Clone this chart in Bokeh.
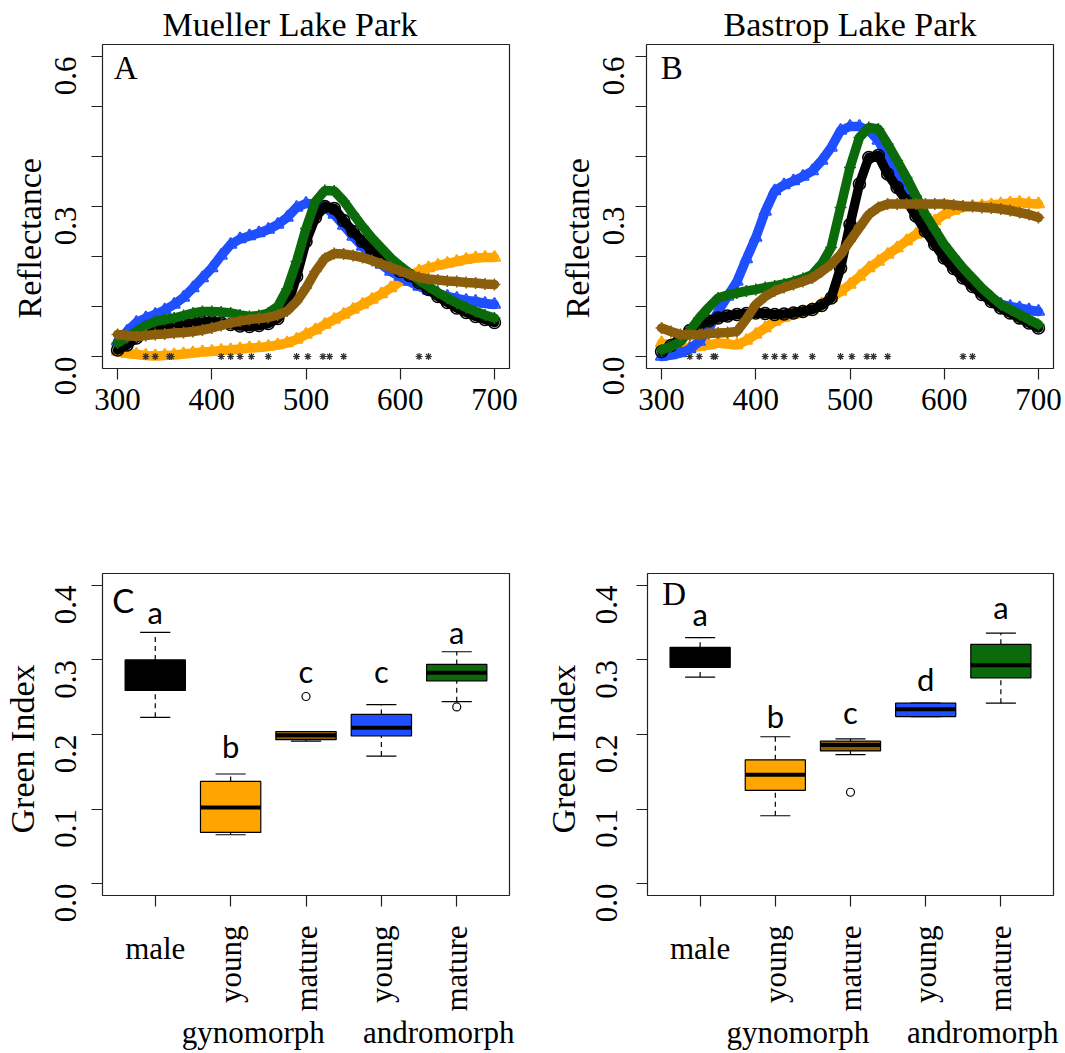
import math
from bokeh.plotting import figure
from bokeh.models import (Range1d, FixedTicker, CustomJSTickFormatter, NumeralTickFormatter, Label,
                          LinearAxis, Title)
from bokeh.layouts import column, row
from bokeh.embed import file_html
from bokeh.resources import INLINE

# ---------------- data ----------------
wavelength = list(range(300, 701, 10))

A_male = [0.013, 0.023, 0.037, 0.050, 0.056, 0.060, 0.063, 0.066, 0.067, 0.069, 0.070, 0.067, 0.064, 0.061,
          0.060, 0.062, 0.066, 0.076, 0.100, 0.160, 0.230, 0.278, 0.300, 0.296, 0.272, 0.250, 0.230, 0.212,
          0.196, 0.182, 0.170, 0.162, 0.148, 0.134, 0.120, 0.108, 0.097, 0.088, 0.080, 0.074, 0.068]
A_young_gyno = [0.010, 0.006, 0.004, 0.002, 0.001, 0.002, 0.003, 0.005, 0.007, 0.009, 0.010, 0.012, 0.013, 0.015,
                0.017, 0.018, 0.020, 0.023, 0.027, 0.034, 0.044, 0.053, 0.064, 0.074, 0.084, 0.094, 0.104, 0.114,
                0.125, 0.137, 0.150, 0.161, 0.171, 0.177, 0.182, 0.186, 0.190, 0.194, 0.197, 0.198, 0.198]
A_mature_gyno = [0.044, 0.042, 0.040, 0.042, 0.044, 0.045, 0.047, 0.048, 0.050, 0.053, 0.057, 0.062, 0.067, 0.071,
                 0.074, 0.076, 0.078, 0.083, 0.091, 0.110, 0.137, 0.170, 0.196, 0.206, 0.205, 0.202, 0.198, 0.192,
                 0.185, 0.178, 0.171, 0.164, 0.158, 0.155, 0.153, 0.151, 0.150, 0.148, 0.147, 0.145, 0.144]
A_young_andro = [0.030, 0.050, 0.068, 0.077, 0.084, 0.093, 0.104, 0.118, 0.137, 0.157, 0.177, 0.202, 0.224, 0.235,
                 0.241, 0.247, 0.254, 0.264, 0.278, 0.298, 0.306, 0.305, 0.298, 0.284, 0.262, 0.240, 0.220, 0.200,
                 0.184, 0.170, 0.160, 0.150, 0.140, 0.132, 0.126, 0.120, 0.116, 0.112, 0.110, 0.106, 0.104]
A_mature_andro = [0.027, 0.038, 0.050, 0.062, 0.070, 0.074, 0.077, 0.082, 0.087, 0.090, 0.090, 0.089, 0.087, 0.083,
                  0.080, 0.082, 0.087, 0.100, 0.135, 0.190, 0.256, 0.310, 0.332, 0.331, 0.311, 0.285, 0.260, 0.237,
                  0.217, 0.197, 0.181, 0.166, 0.152, 0.140, 0.128, 0.117, 0.107, 0.098, 0.090, 0.083, 0.077]

B_male = [0.010, 0.022, 0.037, 0.052, 0.064, 0.071, 0.077, 0.081, 0.084, 0.086, 0.087, 0.086, 0.084, 0.085,
          0.087, 0.090, 0.094, 0.102, 0.117, 0.177, 0.264, 0.345, 0.398, 0.402, 0.365, 0.338, 0.311, 0.281,
          0.251, 0.224, 0.197, 0.176, 0.157, 0.140, 0.124, 0.110, 0.097, 0.087, 0.077, 0.067, 0.057]
B_young_gyno = [0.027, 0.022, 0.017, 0.018, 0.020, 0.023, 0.027, 0.025, 0.023, 0.032, 0.044, 0.057, 0.070, 0.078,
                0.084, 0.089, 0.094, 0.105, 0.117, 0.130, 0.144, 0.160, 0.177, 0.190, 0.204, 0.217, 0.231, 0.244,
                0.258, 0.271, 0.284, 0.292, 0.298, 0.300, 0.301, 0.303, 0.305, 0.307, 0.308, 0.306, 0.305]
B_mature_gyno = [0.057, 0.050, 0.044, 0.043, 0.044, 0.046, 0.047, 0.048, 0.050, 0.075, 0.104, 0.120, 0.131, 0.138,
                 0.144, 0.150, 0.157, 0.170, 0.184, 0.204, 0.231, 0.258, 0.284, 0.298, 0.305, 0.305, 0.305, 0.305,
                 0.305, 0.305, 0.305, 0.303, 0.301, 0.300, 0.298, 0.297, 0.295, 0.292, 0.288, 0.284, 0.278]
B_young_andro = [0.000, 0.003, 0.007, 0.015, 0.030, 0.055, 0.090, 0.120, 0.150, 0.195, 0.238, 0.290, 0.331, 0.343,
                 0.351, 0.360, 0.371, 0.392, 0.418, 0.452, 0.460, 0.460, 0.452, 0.432, 0.398, 0.365, 0.331, 0.295,
                 0.258, 0.230, 0.204, 0.183, 0.164, 0.147, 0.131, 0.117, 0.104, 0.100, 0.097, 0.093, 0.090]
B_mature_andro = [0.013, 0.020, 0.030, 0.052, 0.077, 0.098, 0.117, 0.123, 0.127, 0.131, 0.134, 0.138, 0.141, 0.145,
                  0.150, 0.156, 0.164, 0.185, 0.218, 0.298, 0.378, 0.438, 0.458, 0.455, 0.425, 0.392, 0.358, 0.321,
                  0.284, 0.254, 0.224, 0.200, 0.177, 0.157, 0.137, 0.120, 0.104, 0.094, 0.084, 0.074, 0.064]

# wavelengths with significant differences (asterisks)
signif_wl = [330, 340, 355, 357, 410, 420, 430, 442, 460, 490, 502, 518, 525, 540, 620, 630]

group_pos = [1, 2, 3, 4, 5]
male_label = "male"
stage_pos = [2, 3, 4, 5]
stage_labels = ["young", "mature", "young", "mature"]
morph_pos = [2.3, 4.76]
morph_labels = ["gynomorph", "andromorph"]

C_low = [0.223, 0.0655, 0.191, 0.171, 0.244]
C_q1 = [0.259, 0.0686, 0.193, 0.198, 0.272]
C_med = [0.280, 0.102, 0.199, 0.209, 0.283]
C_q3 = [0.300, 0.137, 0.204, 0.227, 0.294]
C_high = [0.337, 0.147, 0.204, 0.240, 0.311]
C_out_x = [3, 5]
C_out_y = [0.251, 0.237]
C_letters = ["a", "b", "c", "c", "a"]
C_letter_y = [0.364, 0.185, 0.2855, 0.2855, 0.337]

D_low = [0.277, 0.091, 0.173, 0.224, 0.242]
D_q1 = [0.290, 0.125, 0.178, 0.224, 0.276]
D_med = [0.300, 0.146, 0.186, 0.234, 0.293]
D_q3 = [0.317, 0.166, 0.191, 0.242, 0.321]
D_high = [0.330, 0.197, 0.194, 0.242, 0.336]
D_out_x = [3]
D_out_y = [0.1225]
D_letters = ["a", "b", "c", "d", "a"]
D_letter_y = [0.3615, 0.225, 0.2305, 0.2745, 0.3705]

# ---------------- style ----------------
SERIF = "Liberation Serif"
SANS = "Lato"
COL_MALE = "#000000"
COL_YG = "#FFA500"
COL_MG = "#8B5E0C"
COL_YA = "#1F4FFF"
COL_MA = "#0B6B0B"
box_colors = [COL_MALE, COL_YG, COL_MG, COL_YA, COL_MA]


def name_formatter(pos, names):
    return CustomJSTickFormatter(args=dict(pos=pos, names=names), code="""
        for (let i = 0; i < pos.length; i++) {
            if (Math.abs(tick - pos[i]) < 1e-6) return names[i];
        }
        return "";
    """)


def style_axis(ax, tick_out=11):
    ax.axis_line_color = None
    ax.major_tick_out = tick_out
    ax.major_tick_in = 0
    ax.minor_tick_out = tick_out
    ax.minor_tick_in = 0
    ax.major_tick_line_color = "#222222"
    ax.minor_tick_line_color = "#222222"
    ax.major_tick_line_width = 1.2
    ax.minor_tick_line_width = 1.2
    ax.major_label_text_font = SERIF
    ax.major_label_text_font_size = "31px"
    ax.major_label_text_color = "black"


def base_fig(width, height, left, right, top, bottom, xr, yr, ystandoff):
    p = figure(width=width, height=height, x_range=Range1d(*xr), y_range=Range1d(*yr),
               output_backend="svg", toolbar_location=None, tools="",
               min_border_left=left, min_border_right=right, min_border_top=top, min_border_bottom=bottom)
    p.grid.visible = False
    p.outline_line_color = "#222222"
    p.outline_line_width = 1.2
    p.background_fill_color = "white"
    p.border_fill_color = "white"
    style_axis(p.xaxis[0])
    style_axis(p.yaxis[0])
    p.yaxis[0].major_label_orientation = math.pi / 2
    p.yaxis[0].major_label_standoff = ystandoff
    p.xaxis[0].major_label_standoff = 9
    return p


def side_title(p, text, side, offset, standoff, size):
    p.add_layout(Title(text=text, align="left", offset=offset, standoff=standoff, text_font=SERIF,
                       text_font_size=size, text_font_style="normal", text_color="black"), side)


def spectra_fig(width, left, right, series, title, title_off, letter, letter_x, ystandoff, ylab_standoff):
    p = base_fig(width, 530, left, right, 44, 162, (284, 716), (-0.024, 0.624), ystandoff)
    p.xaxis[0].ticker = FixedTicker(ticks=[300, 400, 500, 600, 700], minor_ticks=[])
    p.yaxis[0].ticker = FixedTicker(ticks=[0, 0.3, 0.6], minor_ticks=[0.1, 0.2, 0.4, 0.5])
    p.yaxis[0].formatter = NumeralTickFormatter(format="0.0")
    markers = {COL_MALE: "circle", COL_YG: "triangle", COL_MG: "cross", COL_YA: "triangle", COL_MA: "cross"}
    for vals, col in series:
        p.line(wavelength, vals, line_color=col, line_width=9.5, line_join="round", line_cap="round")
        p.scatter(wavelength, vals, marker=markers[col], size=12, line_color=col, fill_color=None,
                  line_width=1.6)
    p.scatter(signif_wl, [0.0] * len(signif_wl), marker="asterisk", size=7, line_color="#333333",
              line_width=1.2)
    side_title(p, title, "above", title_off, 4, "34px")
    side_title(p, "Reflectance", "left", 50, ylab_standoff, "34px")
    p.add_layout(Label(x=letter_x, y=0.577, text=letter, text_font=SERIF, text_font_size="33px",
                       text_color="black", text_align="left", text_baseline="alphabetic"))
    return p


def box_fig(width, left, right, low, q1, med, q3, high, out_x, out_y, letters, letter_y,
            letter, letter_x, letter_y0, letter_font, ystandoff, ylab_standoff):
    p = base_fig(width, 523, left, right, 43, 158, (0.3, 5.7), (-0.016, 0.416), ystandoff)
    # nearest axis: tick marks at all groups, "male" label
    p.xaxis[0].ticker = FixedTicker(ticks=[1], minor_ticks=stage_pos)
    p.xaxis[0].formatter = name_formatter([1], [male_label])
    p.xaxis[0].major_label_standoff = 24
    # second axis: rotated stage labels
    ax2 = LinearAxis(ticker=FixedTicker(ticks=stage_pos, minor_ticks=[]),
                     formatter=name_formatter(stage_pos, stage_labels))
    style_axis(ax2, tick_out=0)
    ax2.major_tick_line_color = None
    ax2.major_label_orientation = math.pi / 2
    ax2.major_label_standoff = -43
    p.add_layout(ax2, "below")
    # third axis: morph labels
    ax3 = LinearAxis(ticker=FixedTicker(ticks=morph_pos, minor_ticks=[]),
                     formatter=name_formatter(morph_pos, morph_labels))
    style_axis(ax3, tick_out=0)
    ax3.major_tick_line_color = None
    ax3.major_label_standoff = 0
    p.add_layout(ax3, "below")

    p.yaxis[0].ticker = FixedTicker(ticks=[0, 0.1, 0.2, 0.3, 0.4], minor_ticks=[])
    p.yaxis[0].formatter = NumeralTickFormatter(format="0.0")
    # whiskers
    p.segment(group_pos, q3, group_pos, high, line_color="black", line_width=1.2, line_dash="5 4")
    p.segment(group_pos, low, group_pos, q1, line_color="black", line_width=1.2, line_dash="5 4")
    left_cap = [g - 0.2 for g in group_pos]
    right_cap = [g + 0.2 for g in group_pos]
    p.segment(left_cap, high, right_cap, high, line_color="black", line_width=1.2)
    p.segment(left_cap, low, right_cap, low, line_color="black", line_width=1.2)
    # boxes
    p.vbar(x=group_pos, width=0.8, bottom=q1, top=q3, fill_color=box_colors, line_color="black",
           line_width=1.2)
    # medians
    p.segment([g - 0.4 for g in group_pos], med, [g + 0.4 for g in group_pos], med,
              line_color="black", line_width=4)
    # outliers
    p.scatter(out_x, out_y, marker="circle", size=8, fill_color=None, line_color="black", line_width=1.2)
    # significance letters
    for g, t, yv in zip(group_pos, letters, letter_y):
        p.add_layout(Label(x=g, y=yv, text=t, text_font=SANS, text_font_size="31px", text_color="black",
                           text_align="center", text_baseline="alphabetic"))
    p.add_layout(Label(x=letter_x, y=letter_y0, text=letter, text_font=letter_font, text_font_size="33px",
                       text_color="black", text_align="left", text_baseline="alphabetic"))
    side_title(p, "Green Index", "left", 62, ylab_standoff, "34px")
    return p


pA = spectra_fig(540, 102, 31,
                 [(A_young_gyno, COL_YG), (A_young_andro, COL_YA), (A_male, COL_MALE),
                  (A_mature_andro, COL_MA), (A_mature_gyno, COL_MG)],
                 "Mueller Lake Park", 60, "A", 296, 26, -13)
pB = spectra_fig(525, 106, 12,
                 [(B_young_gyno, COL_YG), (B_young_andro, COL_YA), (B_male, COL_MALE),
                  (B_mature_andro, COL_MA), (B_mature_gyno, COL_MG)],
                 "Bastrop Lake Park", 77, "B", 299, 22, -13)
pC = box_fig(540, 102, 31, C_low, C_q1, C_med, C_q3, C_high, C_out_x, C_out_y, C_letters, C_letter_y,
             "C", 0.43, 0.381, SANS, 26, 2)
pD = box_fig(525, 107, 12, D_low, D_q1, D_med, D_q3, D_high, D_out_x, D_out_y, D_letters, D_letter_y,
             "D", 0.495, 0.388, SERIF, 30, 1)

layout = column(row(pA, pB, spacing=0), row(pC, pD, spacing=0), spacing=0)
open("out.html", "w").write(file_html(layout, INLINE))
